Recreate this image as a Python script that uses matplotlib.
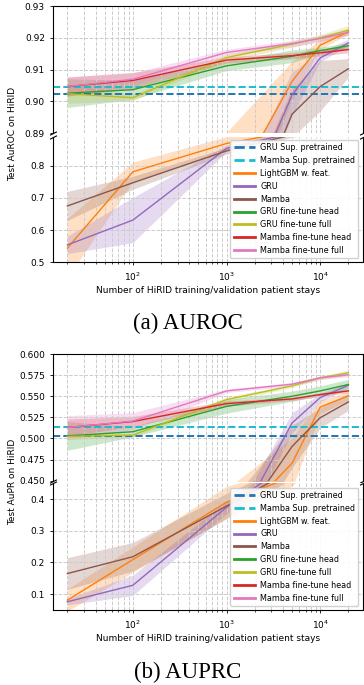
import matplotlib
matplotlib.use("Agg")
import matplotlib.pyplot as plt
import numpy as np

# number of HiRID training/validation stays
n_stays = [20, 100, 1000, 5000, 10000, 20000]

labels = ["GRU Sup. pretrained", "Mamba Sup. pretrained", "LightGBM w. feat.", "GRU",
          "Mamba", "GRU fine-tune head", "GRU fine-tune full",
          "Mamba fine-tune head", "Mamba fine-tune full"]

# AUROC
auroc_gru_sup = 0.9024
auroc_mamba_sup = 0.9047
auroc_lgbm = [0.544, 0.781, 0.869, 0.9063, 0.9177, 0.9219]
auroc_lgbm_sd = [0.092, 0.03, 0.021, 0.006, 0.0015, 0.001]
auroc_gru = [0.554, 0.631, 0.854, 0.902, 0.9137, 0.9184]
auroc_gru_sd = [0.027, 0.07, 0.01, 0.007, 0.0015, 0.001]
auroc_mamba = [0.675, 0.747, 0.846, 0.896, 0.9047, 0.9103]
auroc_mamba_sd = [0.045, 0.02, 0.01, 0.0075, 0.008, 0.003]
auroc_gru_head = [0.9026, 0.9037, 0.9112, 0.9142, 0.916, 0.9175]
auroc_gru_head_sd = [0.0045, 0.003, 0.0015, 0.002, 0.001, 0.001]
auroc_gru_full = [0.9024, 0.9012, 0.9138, 0.918, 0.920, 0.9224]
auroc_gru_full_sd = [0.003, 0.001, 0.001, 0.001, 0.001, 0.0015]
auroc_mamba_head = [0.9047, 0.9066, 0.913, 0.9144, 0.9153, 0.9163]
auroc_mamba_head_sd = [0.003, 0.0025, 0.001, 0.001, 0.001, 0.001]
auroc_mamba_full = [0.9047, 0.907, 0.9154, 0.9182, 0.9198, 0.9217]
auroc_mamba_full_sd = [0.003, 0.002, 0.001, 0.001, 0.001, 0.001]

# AUPRC
auprc_gru_sup = 0.5028
auprc_mamba_sup = 0.5135
auprc_lgbm = [0.081, 0.209, 0.39, 0.4706, 0.5373, 0.5504]
auprc_lgbm_sd = [0.035, 0.04, 0.05, 0.03, 0.008, 0.005]
auprc_gru = [0.076, 0.128, 0.374, 0.5183, 0.5484, 0.5631]
auprc_gru_sd = [0.01, 0.032, 0.02, 0.012, 0.005, 0.003]
auprc_mamba = [0.165, 0.218, 0.378, 0.4905, 0.5246, 0.5433]
auprc_mamba_sd = [0.05, 0.045, 0.04, 0.025, 0.012, 0.01]
auprc_gru_head = [0.503, 0.508, 0.538, 0.550, 0.5563, 0.5639]
auprc_gru_head_sd = [0.017, 0.006, 0.008, 0.006, 0.006, 0.006]
auprc_gru_full = [0.5024, 0.504, 0.546, 0.5623, 0.5718, 0.5778]
auprc_gru_full_sd = [0.004, 0.002, 0.003, 0.002, 0.002, 0.003]
auprc_mamba_head = [0.513, 0.520, 0.5413, 0.5468, 0.552, 0.5563]
auprc_mamba_head_sd = [0.01, 0.006, 0.003, 0.002, 0.002, 0.002]
auprc_mamba_full = [0.513, 0.5206, 0.5563, 0.5643, 0.5718, 0.5754]
auprc_mamba_full_sd = [0.014, 0.01, 0.002, 0.002, 0.002, 0.002]

colors = ["tab:blue", "tab:cyan", "tab:orange", "tab:purple", "tab:brown",
          "tab:green", "tab:olive", "tab:red", "tab:pink"]

FS = 6.5
W, H = 364, 685


def px_axes(fig, top, bottom, left=53.3, right=362.5):
    return fig.add_axes([left / W, 1 - bottom / H, (right - left) / W, (bottom - top) / H])


def draw(ax, sup, curves):
    x = np.array(n_stays)
    for val, lab, c in zip(sup, labels[:2], colors[:2]):
        ax.axhline(val, color=c, ls="--", lw=1.4, label=lab)
    for (m, s), lab, c in zip(curves, labels[2:], colors[2:]):
        m = np.array(m)
        s = np.array(s)
        ax.plot(x, m, color=c, lw=1.0, label=lab)
        ax.fill_between(x, m - s, m + s, color=c, alpha=0.24, lw=0)
    ax.set_xscale("log")
    ax.grid(True, which="both", ls="--", color="#cccccc", lw=0.7)
    ax.tick_params(labelsize=FS, length=2.5, width=0.6)
    ax.tick_params(which="minor", length=1.5, width=0.5)


def broken(fig, top_up, bot_up, top_lo, bot_lo, sup, curves, ylim_up, ylim_lo,
           yt_up, yt_lo, fmt_up, fmt_lo, ylabel):
    ax1 = px_axes(fig, top_up, bot_up)
    ax2 = px_axes(fig, top_lo, bot_lo)
    draw(ax1, sup, curves)
    draw(ax2, sup, curves)
    ax1.set_ylim(*ylim_up)
    ax2.set_ylim(*ylim_lo)
    ax1.set_yticks(yt_up)
    ax1.set_yticklabels([fmt_up % v for v in yt_up])
    ax2.set_yticks(yt_lo)
    ax2.set_yticklabels([fmt_lo % v for v in yt_lo])
    ax1.set_xlim(ax2.get_xlim())
    ax1.spines["bottom"].set_visible(False)
    ax2.spines["top"].set_visible(False)
    ax1.tick_params(axis="x", which="both", bottom=False, labelbottom=False)
    ax2.set_xlabel("Number of HiRID training/validation patient stays", fontsize=FS, labelpad=2)
    d = 0.5
    kw = dict(marker=[(-1, -d), (1, d)], markersize=5, linestyle="none",
              color="k", mec="k", mew=0.8, clip_on=False)
    ax1.plot([0, 1], [0, 0], transform=ax1.transAxes, **kw)
    ax2.plot([0, 1], [1, 1], transform=ax2.transAxes, **kw)
    leg = ax2.legend(loc="lower right", fontsize=5.8, framealpha=0.9,
                     handlelength=2.6, handletextpad=0.7, labelspacing=0.48,
                     borderpad=0.4, borderaxespad=0.5)
    for ln in leg.get_lines():
        ln.set_linewidth(2.0)
    yc = 1 - (top_up + bot_lo) / 2 / H
    fig.text(13 / W, yc, ylabel, rotation=90, ha="center", va="center", fontsize=FS)


fig = plt.figure(figsize=(W / 100, H / 100), dpi=100)

broken(fig, 6, 133.3, 136.7, 262.3,
       [auroc_gru_sup, auroc_mamba_sup],
       [(auroc_lgbm, auroc_lgbm_sd), (auroc_gru, auroc_gru_sd), (auroc_mamba, auroc_mamba_sd),
        (auroc_gru_head, auroc_gru_head_sd), (auroc_gru_full, auroc_gru_full_sd),
        (auroc_mamba_head, auroc_mamba_head_sd), (auroc_mamba_full, auroc_mamba_full_sd)],
       (0.89, 0.93), (0.5, 0.89),
       [0.89, 0.90, 0.91, 0.92, 0.93], [0.5, 0.6, 0.7, 0.8], "%.2f", "%.1f",
       "Test AuROC on HiRID")

broken(fig, 354, 480.7, 483.2, 610,
       [auprc_gru_sup, auprc_mamba_sup],
       [(auprc_lgbm, auprc_lgbm_sd), (auprc_gru, auprc_gru_sd), (auprc_mamba, auprc_mamba_sd),
        (auprc_gru_head, auprc_gru_head_sd), (auprc_gru_full, auprc_gru_full_sd),
        (auprc_mamba_head, auprc_mamba_head_sd), (auprc_mamba_full, auprc_mamba_full_sd)],
       (0.45, 0.60), (0.05, 0.45),
       [0.45, 0.475, 0.5, 0.525, 0.55, 0.575, 0.6], [0.1, 0.2, 0.3, 0.4], "%.3f", "%.1f",
       "Test AuPR on HiRID")

fig.text(188 / W, 1 - 323.7 / H, "(a) AUROC", ha="center", va="center",
         fontsize=16.5, family="Liberation Serif")
fig.text(188 / W, 1 - 672 / H, "(b) AUPRC", ha="center", va="center",
         fontsize=16.5, family="Liberation Serif")

fig.savefig("out.png", dpi=100)
